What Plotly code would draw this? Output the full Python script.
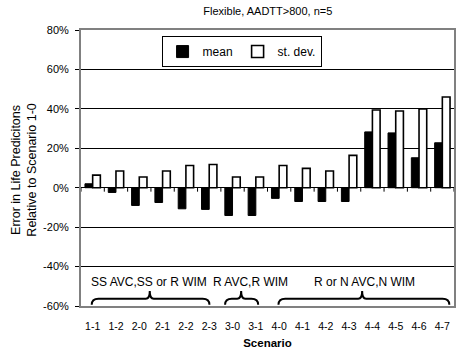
import plotly.graph_objects as go

categories = ["1-1", "1-2", "2-0", "2-1", "2-2", "2-3", "3-0", "3-1",
              "4-0", "4-1", "4-2", "4-3", "4-4", "4-5", "4-6", "4-7"]
mean_vals = [2.0, -2.4, -9.0, -7.5, -10.7, -11.0, -14.1, -14.1,
             -5.4, -7.0, -7.0, -7.0, 28.3, 27.8, 15.2, 22.8]
std_vals = [6.4, 8.5, 5.4, 8.5, 11.3, 11.8, 5.4, 5.4,
            11.3, 9.8, 8.5, 16.4, 39.4, 38.9, 39.9, 46.0]
y_ticks = [-60, -40, -20, 0, 20, 40, 60, 80]
y_tick_labels = [f"{v}%" for v in y_ticks]

group_labels = ["SS AVC,SS or R WIM", "R AVC,R WIM", "R or N AVC,N WIM"]
# brace layout: (left end, tip, right end, text centre) in category units
brace_layout = [(-0.04, 2.45, 5.01, 2.4),
                (5.68, 6.37, 7.10, 6.77),
                (7.97, 11.56, 15.30, 11.67)]

FONT = "Liberation Sans, Arial, sans-serif"
idx = list(range(len(categories)))

fig = go.Figure()
fig.add_trace(go.Bar(x=idx, y=mean_vals, name="mean",
                     marker=dict(color="black", line=dict(color="black", width=1))))
fig.add_trace(go.Bar(x=idx, y=std_vals, name="st. dev.",
                     marker=dict(color="white", line=dict(color="black", width=1.6))))

shapes = []
for k in range(len(categories) + 1):
    shapes.append(dict(type="line", xref="x", yref="y", x0=k - 0.5, x1=k - 0.5,
                       y0=0, y1=-2, line=dict(color="black", width=1)))

y_end, y_body, y_tip = -59.4, -56.3, -52.4
a, b = 0.29, 0.17
annotations = []
for lab, (x0, tip, x1, tc) in zip(group_labels, brace_layout):
    path = (f"M {x0},{y_end} Q {x0},{y_body} {x0 + a},{y_body} "
            f"L {tip - b},{y_body} Q {tip},{y_body} {tip},{y_tip} "
            f"Q {tip},{y_body} {tip + b},{y_body} "
            f"L {x1 - a},{y_body} Q {x1},{y_body} {x1},{y_end}")
    shapes.append(dict(type="path", xref="x", yref="y", path=path,
                       line=dict(color="black", width=2)))
    annotations.append(dict(x=tc, y=-47.7, xref="x", yref="y", text=lab,
                            showarrow=False, font=dict(size=12, color="black", family=FONT)))

annotations.append(dict(xref="paper", yref="paper", x=-0.1536, y=0.493,
                        text="Error in Life Predicitons<br>Relative to Scenario 1-0",
                        textangle=-90, showarrow=False, xanchor="center", yanchor="middle",
                        font=dict(size=12.5, color="black", family=FONT)))

fig.update_layout(
    width=465, height=358,
    margin=dict(l=81, r=9, t=30, b=52),
    paper_bgcolor="white", plot_bgcolor="white",
    font=dict(family=FONT, size=11, color="black"),
    title=dict(text="Flexible, AADTT>800, n=5", x=0.576, xanchor="center",
               yref="container", y=0.97, yanchor="middle", pad=dict(t=0, b=0),
               font=dict(size=11, color="black")),
    barmode="group", bargap=0.34, bargroupgap=0,
    showlegend=True,
    legend=dict(orientation="h", x=0.216, y=0.978, xanchor="left", yanchor="top",
                bordercolor="black", borderwidth=1, bgcolor="white",
                font=dict(size=12), itemwidth=30,
                tracegroupgap=0, traceorder="normal"),
    shapes=shapes, annotations=annotations,
)
fig.update_xaxes(range=[-0.5, len(categories) - 0.5], tickvals=idx, ticktext=categories,
                 showgrid=False, zeroline=False, ticks="", tickfont=dict(size=10.5),
                 ticklabelstandoff=9,
                 showline=True, linecolor="#808080", linewidth=2, mirror=True,
                 title=dict(text="<b>Scenario</b>", font=dict(size=11.5), standoff=8))
fig.update_yaxes(range=[-60, 80], tickvals=y_ticks, ticktext=y_tick_labels,
                 showgrid=True, gridcolor="black", gridwidth=1,
                 zeroline=True, zerolinecolor="black", zerolinewidth=1,
                 ticks="outside", ticklen=4, tickcolor="black", ticklabelstandoff=4,
                 tickfont=dict(size=11),
                 showline=True, linecolor="#808080", linewidth=2, mirror=True)

fig.write_html("out.html", config={"displayModeBar": False},
               post_script="document.body.style.margin='0';")
